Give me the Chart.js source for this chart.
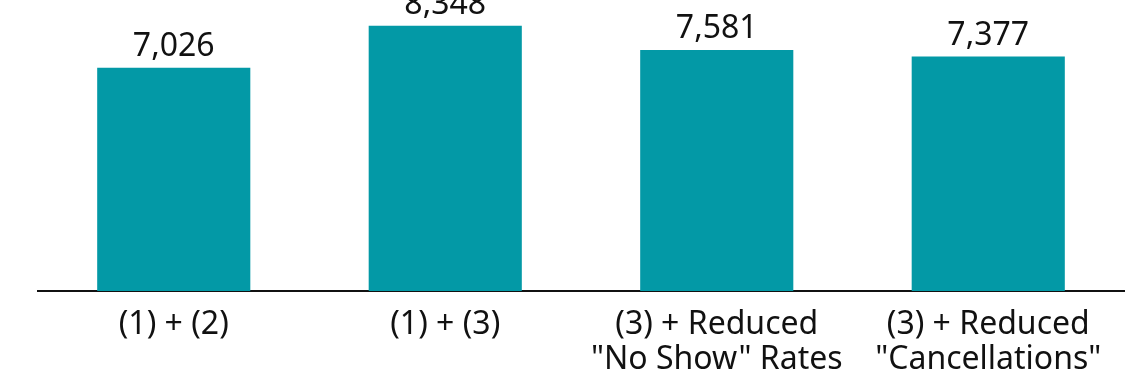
<!DOCTYPE html>
<html>
<head>
<meta charset="utf-8">
<script src="https://cdn.jsdelivr.net/npm/chart.js@4/dist/chart.umd.min.js"></script>
<style>
  html, body { margin: 0; padding: 0; background: #ffffff; }
  #wrap { width: 1135px; height: 381px; position: relative; }
</style>
</head>
<body>
<div id="wrap"><canvas id="c"></canvas></div>
<script>
const categories = [
  ['(1) + (2)'],
  ['(1) + (3)'],
  ['(3) + Reduced', '"No Show" Rates'],
  ['(3) + Reduced', '"Cancellations"']
];
const values = [7026, 8348, 7581, 7377];

const FONT = '"Noto Sans", sans-serif';

const valueLabels = {
  id: 'valueLabels',
  afterDatasetsDraw(chart) {
    const ctx = chart.ctx;
    const meta = chart.getDatasetMeta(0);
    ctx.save();
    ctx.font = '32px ' + FONT;
    ctx.fillStyle = '#111111';
    ctx.textAlign = 'center';
    ctx.textBaseline = 'alphabetic';
    meta.data.forEach((bar, i) => {
      ctx.fillText(values[i].toLocaleString('en-US'), bar.x, bar.y - 12);
    });
    ctx.restore();
  }
};

new Chart(document.getElementById('c'), {
  type: 'bar',
  data: {
    labels: categories,
    datasets: [{
      data: values,
      backgroundColor: '#0399a6',
      borderWidth: 0,
      categoryPercentage: 1.0,
      barPercentage: 0.564
    }]
  },
  options: {
    responsive: true,
    maintainAspectRatio: false,
    animation: false,
    layout: { padding: { left: 38, right: 11, top: 5, bottom: 0 } },
    plugins: {
      legend: { display: false },
      tooltip: { enabled: false }
    },
    scales: {
      y: {
        display: false,
        min: 0,
        max: 9000
      },
      x: {
        grid: { display: false, drawTicks: false },
        border: { display: true, color: '#111111', width: 2 },
        ticks: {
          color: '#111111',
          padding: 16,
          maxRotation: 0,
          autoSkip: false,
          font: { family: FONT, size: 32, lineHeight: 1.1 }
        },
        afterFit(scale) { scale.height = 90; }
      }
    }
  },
  plugins: [valueLabels]
});
</script>
</body>
</html>
